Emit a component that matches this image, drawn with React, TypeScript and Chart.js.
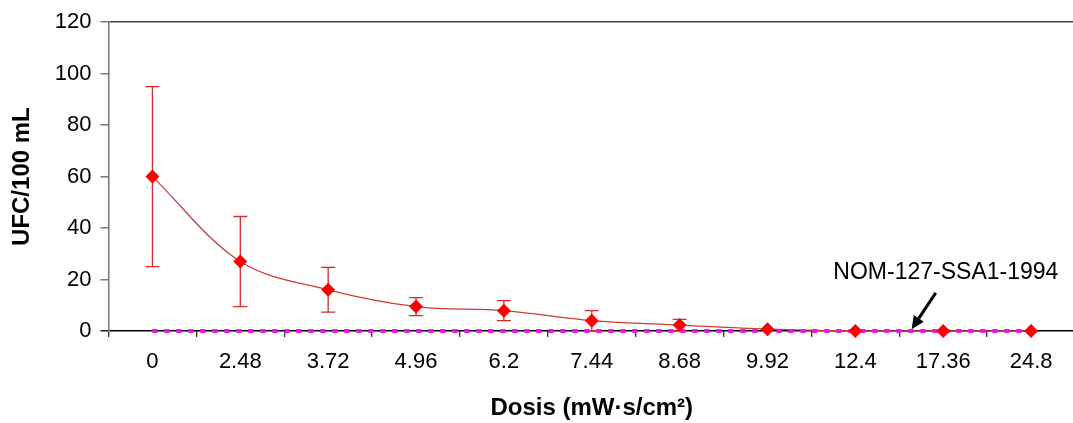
import React, { useEffect, useRef } from "react";
import { Chart, registerables } from "chart.js";

Chart.register(...registerables);

// UV dose categories (mW·s/cm²)
const doseLabels = ["0", "2.48", "3.72", "4.96", "6.2", "7.44", "8.68", "9.92", "12.4", "17.36", "24.8"];
// Mean colony count (UFC/100 mL) per dose
const ufcMean = [60, 27, 16, 9.5, 7.9, 4, 2.3, 0.7, 0, 0, 0];
// Error bar half-width per dose
const ufcError = [35, 17.5, 8.7, 3.5, 3.9, 3.9, 2.2, 0, 0, 0, 0];
// Regulatory limit (NOM-127-SSA1-1994)
const nomLimit = [0, 0, 0, 0, 0, 0, 0, 0, 0, 0, 0];
const yTicks = [0, 20, 40, 60, 80, 100, 120];

const NOM_LABEL = "NOM-127-SSA1-1994";
// Label and arrow anchors in (category index, value) units
const nomText = { i: 9.03, v: 22.8 };
const nomArrowFrom = { i: 8.915, v: 14.8 };
const nomArrowTo = { i: 8.64, v: 0.7 };

const FONT = "'Liberation Sans', Arial, Helvetica, sans-serif";
const LINE_RED = "#d03a3a";
const ERR_RED = "#d42a2a";
const MARK_RED = "#ff0000";
const MAGENTA = "#f010f0";

const errorBarsPlugin = {
  id: "errorBars",
  beforeDatasetsDraw(chart: any) {
    const { ctx } = chart;
    const xs = chart.scales.x;
    const ys = chart.scales.y;
    ctx.save();
    ctx.strokeStyle = ERR_RED;
    ctx.lineWidth = 1.3;
    ufcMean.forEach((m, i) => {
      const e = ufcError[i];
      if (!e) return;
      const px = xs.getPixelForValue(i);
      const top = ys.getPixelForValue(m + e);
      const bot = ys.getPixelForValue(Math.max(0, m - e));
      const cap = 7;
      ctx.beginPath();
      ctx.moveTo(px, top);
      ctx.lineTo(px, bot);
      ctx.moveTo(px - cap, top);
      ctx.lineTo(px + cap, top);
      ctx.moveTo(px - cap, bot);
      ctx.lineTo(px + cap, bot);
      ctx.stroke();
    });
    ctx.restore();
  },
};

const nomAnnotationPlugin = {
  id: "nomAnnotation",
  afterDatasetsDraw(chart: any) {
    const { ctx } = chart;
    const xs = chart.scales.x;
    const ys = chart.scales.y;
    ctx.save();
    ctx.fillStyle = "#000";
    ctx.font = `23px ${FONT}`;
    ctx.textAlign = "center";
    ctx.textBaseline = "middle";
    ctx.fillText(NOM_LABEL, xs.getPixelForValue(nomText.i), ys.getPixelForValue(nomText.v));

    const x1 = xs.getPixelForValue(nomArrowFrom.i);
    const y1 = ys.getPixelForValue(nomArrowFrom.v);
    const x2 = xs.getPixelForValue(nomArrowTo.i);
    const y2 = ys.getPixelForValue(nomArrowTo.v);
    const ang = Math.atan2(y2 - y1, x2 - x1);
    const headLen = 13;
    const headW = 6;
    const bx = x2 - headLen * Math.cos(ang);
    const by = y2 - headLen * Math.sin(ang);
    ctx.strokeStyle = "#000";
    ctx.lineWidth = 3;
    ctx.beginPath();
    ctx.moveTo(x1, y1);
    ctx.lineTo(bx, by);
    ctx.stroke();
    ctx.beginPath();
    ctx.moveTo(x2, y2);
    ctx.lineTo(bx + headW * Math.sin(ang), by - headW * Math.cos(ang));
    ctx.lineTo(bx - headW * Math.sin(ang), by + headW * Math.cos(ang));
    ctx.closePath();
    ctx.fill();
    ctx.restore();
  },
};

export default function App() {
  const canvasRef = useRef<HTMLCanvasElement | null>(null);

  useEffect(() => {
    if (!canvasRef.current) return;
    const chart = new Chart(canvasRef.current, {
      type: "line",
      data: {
        labels: doseLabels,
        datasets: [
          {
            label: "UFC markers",
            data: ufcMean,
            showLine: false,
            pointStyle: "rectRot",
            pointRadius: 7,
            pointBackgroundColor: MARK_RED,
            pointBorderColor: MARK_RED,
            pointBorderWidth: 0,
            clip: false,
            order: 1,
          },
          {
            label: NOM_LABEL,
            data: nomLimit,
            borderColor: MAGENTA,
            borderWidth: 4,
            borderDash: [5, 7],
            pointRadius: 0,
            clip: false,
            order: 2,
          },
          {
            label: "UFC/100 mL",
            data: ufcMean,
            borderColor: LINE_RED,
            borderWidth: 1.3,
            tension: 0.35,
            pointRadius: 0,
            clip: false,
            order: 3,
          },
        ],
      },
      options: {
        responsive: false,
        animation: false,
        devicePixelRatio: 1,
        layout: { padding: { top: 21, left: 0, right: 0, bottom: 0 } },
        plugins: {
          legend: { display: false },
          tooltip: { enabled: false },
        },
        scales: {
          x: {
            type: "category",
            offset: true,
            grid: {
              offset: true,
              drawOnChartArea: false,
              drawTicks: true,
              tickLength: 6,
              tickColor: "#333",
              lineWidth: 1.3,
            },
            // the baseline is drawn by the y grid line at 0, underneath the data
            border: { display: false },
            ticks: {
              color: "#000",
              font: { family: FONT, size: 22 },
              padding: 12,
              maxRotation: 0,
              autoSkip: false,
            },
            title: {
              display: true,
              text: "Dosis (mW·s/cm²)",
              color: "#000",
              font: { family: FONT, size: 24, weight: "bold" },
              padding: { top: 0, bottom: 0 },
            },
            afterFit: (s: any) => {
              s.height = 92;
            },
          },
          y: {
            min: 0,
            max: 120,
            afterBuildTicks: (s: any) => {
              s.ticks = yTicks.map((v) => ({ value: v }));
            },
            grid: {
              drawOnChartArea: true,
              color: (c: any) => {
                const v = c.tick ? c.tick.value : null;
                if (v === 0) return "#000";
                if (v === 120) return "#444";
                return "rgba(0,0,0,0)";
              },
              tickColor: (c: any) => (c.tick && c.tick.value === 0 ? "#222" : "#777"),
              tickLength: 8,
              lineWidth: 1.5,
            },
            border: { color: "#777", width: 1.5 },
            ticks: {
              color: "#000",
              font: { family: FONT, size: 22 },
              padding: 9,
            },
            title: {
              display: true,
              text: "UFC/100 mL",
              color: "#000",
              font: { family: FONT, size: 24, weight: "bold" },
              padding: { top: 8, bottom: 0 },
            },
            afterFit: (s: any) => {
              s.width = 108.5;
            },
          },
        },
      },
      plugins: [errorBarsPlugin, nomAnnotationPlugin],
    });
    return () => chart.destroy();
  }, []);

  return (
    <div
      style={{
        position: "fixed",
        left: 0,
        top: 0,
        width: 1073,
        height: 423,
        overflow: "hidden",
        background: "#fff",
      }}
    >
      <canvas ref={canvasRef} width={1082} height={423} style={{ display: "block" }} />
    </div>
  );
}
